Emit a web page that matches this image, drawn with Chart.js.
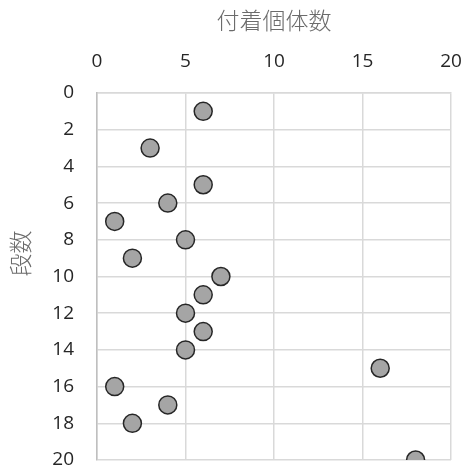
<!DOCTYPE html>
<html>
<head>
<meta charset="utf-8">
<script src="https://cdn.jsdelivr.net/npm/chart.js@4"></script>
<style>
  html, body { margin: 0; padding: 0; background: #fff; }
  #wrap { width: 465px; height: 471px; }
</style>
</head>
<body>
<div id="wrap"><canvas id="scatterChart"></canvas></div>
<script>
// 付着個体数 (x) per 段数 (y)
const counts = [6, 3, 6, 4, 1, 5, 2, 7, 6, 5, 6, 5, 16, 1, 4, 2, 18];
const levels = [1, 3, 5, 6, 7, 8, 9, 10, 11, 12, 13, 14, 15, 16, 17, 18, 20];
const xTitle = '付着個体数';
const yTitle = '段数';

const points = counts.map((c, i) => ({ x: c, y: levels[i] }));

// y title sits a bit above the plot centre, like the original
const yTitlePlugin = {
  id: 'yTitle',
  afterDraw(chart) {
    const { ctx, chartArea } = chart;
    ctx.save();
    ctx.translate(20, (chartArea.top + chartArea.bottom) / 2 - 23);
    ctx.rotate(-Math.PI / 2);
    ctx.fillStyle = '#6b6b6b';
    ctx.font = '300 23px "Noto Sans CJK JP"';
    ctx.textAlign = 'center';
    ctx.textBaseline = 'middle';
    ctx.fillText(yTitle, 0, 0);
    ctx.restore();
  }
};

const ctx = document.getElementById('scatterChart').getContext('2d');
new Chart(ctx, {
  type: 'scatter',
  data: {
    datasets: [
      {
        label: yTitle,
        data: points,
        backgroundColor: '#a5a5a5',
        borderColor: '#262626',
        borderWidth: 1.5,
        pointRadius: 9
      }
    ]
  },
  options: {
    responsive: true,
    maintainAspectRatio: false,
    animation: false,
    layout: {
      padding: 0
    },
    plugins: {
      legend: { display: false },
      tooltip: { enabled: false }
    },
    scales: {
      x: {
        position: 'top',
        min: 0,
        max: 20,
        afterFit: (scale) => {
          scale.height = 93;
          scale.paddingLeft = 0;
          scale.paddingRight = 14;
        },
        ticks: {
          stepSize: 5,
          color: '#262626',
          font: { family: 'Open Sans', size: 19 },
          padding: 20
        },
        grid: { color: '#d9d9d9', lineWidth: 1.5, drawTicks: false },
        border: { color: '#d9d9d9', width: 1.5 },
        title: {
          display: true,
          text: xTitle,
          color: '#6b6b6b',
          font: { family: 'Noto Sans CJK JP', size: 23, weight: 300 },
          padding: { top: 6, bottom: 0 }
        }
      },
      y: {
        reverse: true,
        min: 0,
        max: 20,
        afterFit: (scale) => {
          scale.width = 97;
          scale.paddingTop = 0;
          scale.paddingBottom = 11;
        },
        ticks: {
          stepSize: 2,
          color: '#262626',
          font: { family: 'Open Sans', size: 19 },
          padding: 23
        },
        grid: { color: '#d9d9d9', lineWidth: 1.5, drawTicks: false },
        border: { color: '#bfbfbf', width: 1.5 },
        title: { display: false }
      }
    }
  },
  plugins: [yTitlePlugin]
});
</script>
</body>
</html>
